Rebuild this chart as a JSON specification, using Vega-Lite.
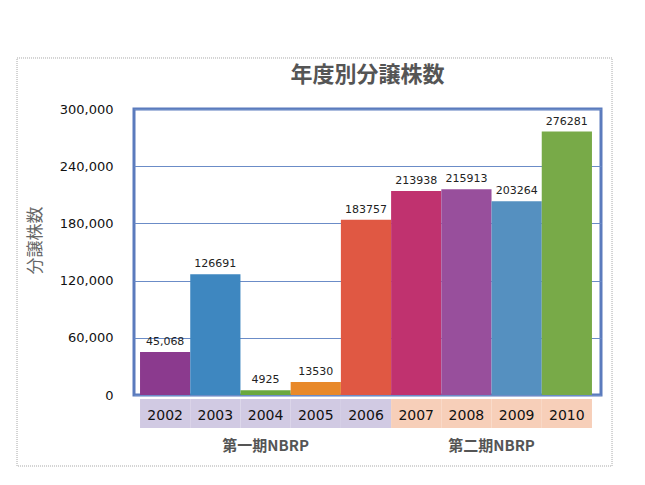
{
  "$schema": "https://vega.github.io/schema/vega-lite/v6.json",
  "autosize": "none",
  "width": 467,
  "height": 286,
  "padding": {"left": 134, "top": 109, "right": 44, "bottom": 90},
  "background": "white",
  "config": {
    "view": {"stroke": "#5b7bbd", "strokeWidth": 3},
    "font": "DejaVu Sans",
    "axisY": {
      "grid": true, "gridColor": "#6b8cc7", "gridWidth": 1, "domain": false, "ticks": false, "tickSize": 0,
      "labelPadding": 21, "labelFontSize": 13, "labelColor": "#111", "labelFont": "DejaVu Sans",
      "titleFont": "Noto Sans CJK JP", "titleFontSize": 17, "titleFontWeight": "normal", "titleColor": "#666",
      "titleX": -99, "titleY": 131, "titleAlign": "center", "titleBaseline": "middle", "titleAngle": -90
    },
    "axisX": {
      "grid": false, "domain": false, "ticks": false, "tickSize": 0, "labelAngle": 0,
      "labelPadding": 13, "labelFontSize": 14, "labelColor": "#111", "labelFont": "DejaVu Sans", "title": null
    }
  },
  "title": {"text": "年度別分譲株数", "font": "Noto Sans CJK JP", "fontSize": 22, "fontWeight": "bold", "color": "#555", "offset": -30, "anchor": "middle", "frame": "group"},
  "datasets": {
    "bars": [
      {"year": "2002", "count": 45068, "label": "45,068", "period": "第一期"},
      {"year": "2003", "count": 126691, "label": "126691", "period": "第一期"},
      {"year": "2004", "count": 4925, "label": "4925", "period": "第一期"},
      {"year": "2005", "count": 13530, "label": "13530", "period": "第一期"},
      {"year": "2006", "count": 183757, "label": "183757", "period": "第一期"},
      {"year": "2007", "count": 213938, "label": "213938", "period": "第二期"},
      {"year": "2008", "count": 215913, "label": "215913", "period": "第二期"},
      {"year": "2009", "count": 203264, "label": "203264", "period": "第二期"},
      {"year": "2010", "count": 276281, "label": "276281", "period": "第二期"}
    ]
  },
  "layer": [
    {
      "data": {"values": [{"frame": "outer"}]},
      "mark": {"type": "rect", "fill": null, "stroke": "#a8a8a8", "strokeDash": [1, 1], "strokeWidth": 1, "clip": false},
      "encoding": {
        "x": {"datum": -0.2505, "type": "quantitative", "scale": {"domain": [0, 1]}, "axis": null},
        "x2": {"datum": 1.0236},
        "y": {"datum": 353497, "type": "quantitative", "scale": {"domain": [0, 300000], "nice": false}, "title": "分譲株数"},
        "y2": {"datum": -74476}
      }
    },
    {
      "data": {"name": "bars"},
      "layer": [
        {
          "mark": {"type": "rect", "clip": false},
          "encoding": {
            "x": {"field": "year", "type": "ordinal", "scale": {"domain": ["2002","2003","2004","2005","2006","2007","2008","2009","2010"], "paddingInner": 0, "paddingOuter": 0.15, "align": 0.4}},
            "y": {"datum": -4196, "type": "quantitative", "scale": {"domain": [0, 300000], "nice": false}, "title": "分譲株数"},
            "y2": {"datum": -34615},
            "fill": {"field": "period", "type": "nominal", "scale": {"domain": ["第一期", "第二期"], "range": ["#d1cae3", "#f7cfb9"]}, "legend": null}
          }
        },
        {
          "mark": {"type": "bar", "clip": false},
          "encoding": {
            "x": {"field": "year", "type": "ordinal", "scale": {"domain": ["2002","2003","2004","2005","2006","2007","2008","2009","2010"], "paddingInner": 0, "paddingOuter": 0.15, "align": 0.4}},
            "y": {"field": "count", "type": "quantitative", "scale": {"domain": [0, 300000], "nice": false}, "title": "分譲株数",
                  "axis": {"values": [0, 60000, 120000, 180000, 240000, 300000], "format": ",d"}},
            "color": {"field": "year", "type": "nominal", "scale": {"domain": ["2002","2003","2004","2005","2006","2007","2008","2009","2010"], "range": ["#8b3a8e", "#3e87c0", "#6aa83e", "#e8892a", "#e05843", "#c0326f", "#984f9c", "#5590c0", "#78aa48"]}, "legend": null}
          }
        },
        {
          "mark": {"type": "text", "baseline": "bottom", "dy": -5, "fontSize": 11, "color": "#222", "font": "DejaVu Sans", "clip": false},
          "encoding": {
            "x": {"field": "year", "type": "ordinal"},
            "y": {"field": "count", "type": "quantitative", "scale": {"domain": [0, 300000], "nice": false}, "title": "分譲株数"},
            "text": {"field": "label"}
          }
        },
        {
          "data": {"values": [{"group": "第一期NBRP", "year": "2004"}]},
          "mark": {"type": "text", "baseline": "middle", "align": "center", "fontSize": 15, "fontWeight": "bold", "color": "#555", "font": "Noto Sans CJK JP", "clip": false},
          "encoding": {
            "x": {"field": "year", "type": "ordinal", "bandPosition": 0.5},
            "y": {"datum": -53497, "type": "quantitative", "scale": {"domain": [0, 300000], "nice": false}, "title": "分譲株数"},
            "text": {"field": "group"}
          }
        },
        {
          "data": {"values": [{"group": "第二期NBRP", "year": "2008"}]},
          "mark": {"type": "text", "baseline": "middle", "align": "center", "fontSize": 15, "fontWeight": "bold", "color": "#555", "font": "Noto Sans CJK JP", "clip": false},
          "encoding": {
            "x": {"field": "year", "type": "ordinal", "bandPosition": 1},
            "y": {"datum": -53497, "type": "quantitative", "scale": {"domain": [0, 300000], "nice": false}, "title": "分譲株数"},
            "text": {"field": "group"}
          }
        }
      ]
    }
  ],
  "resolve": {"scale": {"x": "independent"}}
}
